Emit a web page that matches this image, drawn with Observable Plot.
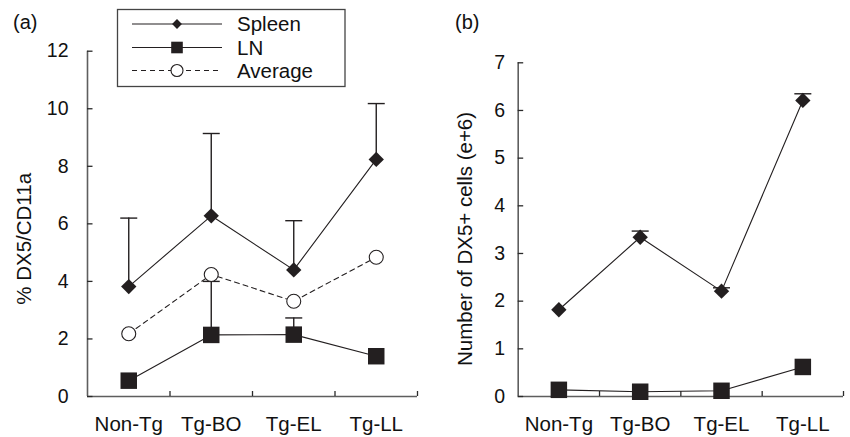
<!DOCTYPE html>
<html>
<head>
<meta charset="utf-8">
<script src="https://cdn.jsdelivr.net/npm/d3@7"></script>
<script src="https://cdn.jsdelivr.net/npm/@observablehq/plot@0.6"></script>
<style>
  html, body { margin: 0; padding: 0; background: #fff; }
  #wrap { position: relative; width: 850px; height: 437px; overflow: hidden; font-family: "Liberation Sans", Arial, Helvetica, sans-serif; }
  #wrap > .panel { position: absolute; top: 0; }
  #overlay { position: absolute; left: 0; top: 0; pointer-events: none; }
</style>
</head>
<body>
<div id="wrap"></div>
<script>
// ---------- data ----------
const categories = ["Non-Tg", "Tg-BO", "Tg-EL", "Tg-LL"];

// panel (a): % DX5/CD11a
const spleenPctA = [3.82, 6.28, 4.40, 8.24];
const spleenErrTopA = [6.20, 9.14, 6.11, 10.18];
const lnPctA = [0.55, 2.14, 2.15, 1.40];
const lnErrTopA = [null, 4.00, 2.73, null];
const averagePctA = [2.18, 4.24, 3.31, 4.84];
const yTicksA = [0, 2, 4, 6, 8, 10, 12];

// panel (b): Number of DX5+ cells (e+6)
const spleenCountB = [1.82, 3.34, 2.21, 6.21];
const spleenErrTopB = [null, 3.47, 2.28, 6.35];
const lnCountB = [0.14, 0.10, 0.12, 0.62];
const yTicksB = [0, 1, 2, 3, 4, 5, 6, 7];

const seriesNames = ["Spleen", "LN", "Average"];
const panelLabels = ["(a)", "(b)"];
const yTitles = ["% DX5/CD11a", "Number of DX5+ cells (e+6)"];

// ---------- helpers ----------
const ink = "#231f20";
const axisInk = "#5e5e5e";
const tickInk = "#2a2a2a";
const FONT = "'Liberation Sans', Arial, Helvetica, sans-serif";

const rows = (vals, errs) => categories.map((c, i) => ({
  pos: i + 0.5, cat: c, v: vals[i], e: errs ? errs[i] : null
}));

const capSymbol = {
  draw(ctx) { ctx.moveTo(-8.5, 0); ctx.lineTo(8.5, 0); }
};

function errorMarks(data) {
  const d = data.filter(r => r.e != null);
  return [
    Plot.ruleX(d, {x: "pos", y1: "v", y2: "e", stroke: ink, strokeWidth: 1.4}),
    Plot.dot(d, {x: "pos", y: "e", symbol: capSymbol, stroke: ink, strokeWidth: 1.4, r: 5})
  ];
}

function panel(o) {
  return Plot.plot({
    width: 425,
    height: 437,
    marginLeft: o.marginLeft,
    marginRight: o.marginRight,
    marginTop: o.marginTop,
    marginBottom: 41,
    x: {type: "linear", domain: [0, categories.length]},
    y: {domain: o.yDomain},
    style: {fontFamily: FONT, fontSize: "19px", background: "transparent", color: "#111", overflow: "visible"},
    marks: [
      // axis lines
      Plot.ruleX([0], {stroke: axisInk, strokeWidth: 1.6}),
      Plot.ruleY([0], {stroke: axisInk, strokeWidth: 1.6}),
      // inward y ticks
      Plot.axisY({ticks: o.yTicks, tickSize: 5.5, dx: 5.5, tickFormat: () => "", label: null, stroke: tickInk, strokeWidth: 1.3}),
      // y tick labels
      Plot.axisY({ticks: o.yTicks, tickSize: 0, tickPadding: o.yPad, fontSize: 19.5, label: null, tickFormat: d => String(d)}),
      // upward x ticks at category boundaries
      Plot.axisX({ticks: d3.range(1, categories.length + 1), tickSize: 5, dy: -5, tickFormat: () => "", label: null, stroke: tickInk, strokeWidth: 1.3}),
      // x category labels
      Plot.axisX({ticks: categories.map((c, i) => i + 0.5), tickSize: 0, tickPadding: 20, fontSize: 20.5, label: null,
                  tickFormat: d => categories[Math.round(d - 0.5)]}),
      // y title
      Plot.text([o.yTitle], {frameAnchor: "left", rotate: -90, textAnchor: "middle", lineAnchor: "middle",
                             dx: o.titleDx, dy: o.titleDy, text: d => d, fontSize: 20.5, fill: "#111"}),
      ...o.marks
    ]
  });
}

// ---------- panel (a) ----------
const spleenA = rows(spleenPctA, spleenErrTopA);
const lnA = rows(lnPctA, lnErrTopA);
const avgA = rows(averagePctA);

const plotA = panel({
  marginLeft: 87, marginRight: 8, marginTop: 50.7,
  yDomain: [0, 12], yTicks: yTicksA, yPad: 19,
  yTitle: yTitles[0], titleDx: -63, titleDy: 15,
  marks: [
    Plot.line(spleenA, {x: "pos", y: "v", stroke: ink, strokeWidth: 1.1}),
    Plot.line(lnA, {x: "pos", y: "v", stroke: ink, strokeWidth: 1.1}),
    Plot.line(avgA, {x: "pos", y: "v", stroke: ink, strokeWidth: 1.1, strokeDasharray: "5,4"}),
    ...errorMarks(spleenA),
    ...errorMarks(lnA),
    Plot.dot(spleenA, {x: "pos", y: "v", symbol: "diamond2", r: 6.9, fill: ink, stroke: "none"}),
    Plot.dot(lnA, {x: "pos", y: "v", symbol: "square", r: 9.3, fill: ink, stroke: "none"}),
    Plot.dot(avgA, {x: "pos", y: "v", r: 7, fill: "white", stroke: ink, strokeWidth: 1.1})
  ]
});

// ---------- panel (b) ----------
const spleenB = rows(spleenCountB, spleenErrTopB);
const lnB = rows(lnCountB);

const plotB = panel({
  marginLeft: 92.7, marginRight: 7, marginTop: 62.3,
  yDomain: [0, 7], yTicks: yTicksB, yPad: 13,
  yTitle: yTitles[1], titleDx: -52.7, titleDy: 9.3,
  marks: [
    Plot.line(spleenB, {x: "pos", y: "v", stroke: ink, strokeWidth: 1.1}),
    Plot.line(lnB, {x: "pos", y: "v", stroke: ink, strokeWidth: 1.1}),
    ...errorMarks(spleenB),
    Plot.dot(spleenB, {x: "pos", y: "v", symbol: "diamond2", r: 6.9, fill: ink, stroke: "none"}),
    Plot.dot(lnB, {x: "pos", y: "v", symbol: "square", r: 9.3, fill: ink, stroke: "none"})
  ]
});

const wrap = document.getElementById("wrap");
plotA.classList.add("panel"); plotA.style.left = "0px";
plotB.classList.add("panel"); plotB.style.left = "425px";
wrap.appendChild(plotA);
wrap.appendChild(plotB);

// ---------- overlay: panel letters and legend ----------
const ov = d3.create("svg").attr("id", "overlay").attr("width", 850).attr("height", 437)
  .style("font-family", FONT);
ov.append("text").attr("x", 13).attr("y", 29).attr("font-size", 20).attr("fill", "#111").text(panelLabels[0]);
ov.append("text").attr("x", 455).attr("y", 29).attr("font-size", 20).attr("fill", "#111").text(panelLabels[1]);

const lg = ov.append("g");
lg.append("rect").attr("x", 117.5).attr("y", 9.5).attr("width", 227.5).attr("height", 77)
  .attr("fill", "white").attr("stroke", "#444").attr("stroke-width", 1.3);
const legendRows = [
  {name: seriesNames[0], y: 24, sym: "diamond"},
  {name: seriesNames[1], y: 47.5, sym: "square"},
  {name: seriesNames[2], y: 70.5, sym: "circle"}
];
legendRows.forEach(r => {
  lg.append("line").attr("x1", 132).attr("x2", 222).attr("y1", r.y).attr("y2", r.y)
    .attr("stroke", ink).attr("stroke-width", 1.1)
    .attr("stroke-dasharray", r.sym === "circle" ? "5,4" : null);
  if (r.sym === "diamond") {
    lg.append("path").attr("d", d3.symbol(d3.symbolDiamond2, 62)()).attr("transform", `translate(177,${r.y})`).attr("fill", ink);
  } else if (r.sym === "square") {
    lg.append("rect").attr("x", 177 - 5.8).attr("y", r.y - 5.8).attr("width", 11.6).attr("height", 11.6).attr("fill", ink);
  } else {
    lg.append("circle").attr("cx", 177).attr("cy", r.y).attr("r", 6).attr("fill", "white").attr("stroke", ink).attr("stroke-width", 1.1);
  }
  lg.append("text").attr("x", 237).attr("y", r.y + 7.2).attr("font-size", 20.5).attr("fill", "#111").text(r.name);
});
wrap.appendChild(ov.node());
</script>
</body>
</html>
